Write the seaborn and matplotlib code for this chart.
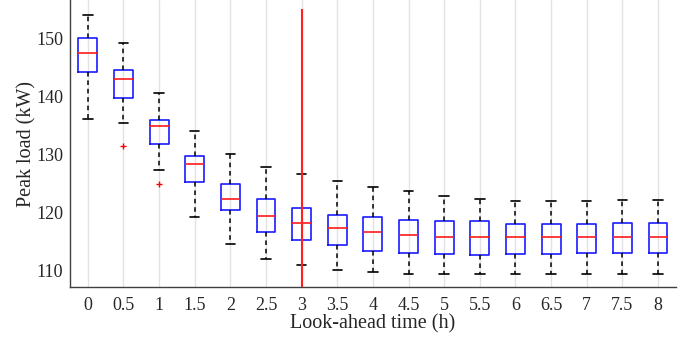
import numpy as np
import pandas as pd
import seaborn as sns
import matplotlib
matplotlib.use("Agg")
import matplotlib.pyplot as plt

# look-ahead times (categories on the x axis)
times = ['0', '0.5', '1', '1.5', '2', '2.5', '3', '3.5', '4', '4.5',
         '5', '5.5', '6', '6.5', '7', '7.5', '8']

# box statistics (kW)
whisker_lo = [136.2, 135.5, 127.4, 119.2, 114.6, 112.0, 111.0, 110.2, 109.8,
              109.5, 109.5, 109.4, 109.4, 109.4, 109.5, 109.5, 109.5]
q1 = [144.2, 139.8, 131.9, 125.3, 120.4, 116.7, 115.3, 114.5, 113.5,
      113.0, 112.9, 112.8, 112.9, 112.9, 113.0, 113.0, 113.0]
median = [147.4, 143.0, 135.0, 128.3, 122.4, 119.5, 118.2, 117.4, 116.7,
          116.1, 115.9, 115.8, 115.8, 115.8, 115.9, 115.9, 115.9]
q3 = [150.0, 144.6, 135.9, 129.8, 125.0, 122.3, 120.8, 119.6, 119.2,
      118.8, 118.6, 118.5, 118.0, 118.0, 118.1, 118.2, 118.2]
whisker_hi = [154.0, 149.2, 140.6, 134.0, 130.1, 127.9, 126.6, 125.4, 124.4,
              123.8, 122.9, 122.4, 122.1, 122.1, 122.1, 122.2, 122.2]

# outliers drawn as red crosses
outlier_times = ['0.5', '1']
outlier_vals = [131.5, 124.9]

# chosen look-ahead time marked by the red line
marked_time = '3'
marked_top = 155.0

# five points per box give exactly the drawn quartiles and whisker ends
rows = []
for t, lo, a, m, b, hi in zip(times, whisker_lo, q1, median, q3, whisker_hi):
    for v in (lo, a, m, b, hi):
        rows.append({'time': t, 'load': v})
df = pd.DataFrame(rows)

sns.set_style('white')
plt.rcParams['font.family'] = ['Liberation Serif', 'DejaVu Serif']

fig, ax = plt.subplots(figsize=(6.96, 3.37), dpi=100)
fig.subplots_adjust(left=0.1006, right=0.971, bottom=0.148, top=1.0)

sns.boxplot(data=df, x='time', y='load', order=times, fill=False, width=0.53,
            whis=(0, 100), showfliers=False, ax=ax,
            boxprops=dict(color='#1a1aff', linewidth=1.2),
            medianprops=dict(color='#ff1a1a', linewidth=1.2),
            whiskerprops=dict(color='black', linestyle=(0, (3, 2.5)), linewidth=1.1),
            capprops=dict(color='black', linewidth=1.2))

sns.stripplot(x=outlier_times, y=outlier_vals, order=times, jitter=False,
              marker='+', color='red', edgecolor='red', size=4, linewidth=1,
              ax=ax)

# seaborn switches the grid off on the categorical axis, so add it back here
ax.xaxis.grid(True, color='#e2e2e2', linewidth=1)
ax.yaxis.grid(False)
ax.set_axisbelow(True)

ax.set_ylim(107.2, 156.6)
ax.set_xlim(-0.5, len(times) - 0.5)
ax.vlines(times.index(marked_time), ax.get_ylim()[0], marked_top,
          color='#ff2020', linewidth=1.5, zorder=5)

ax.set_yticks([110, 120, 130, 140, 150])
ax.set_xticks(range(len(times)))
ax.set_xticklabels(times)
ax.tick_params(direction='in', length=4, width=1, color='#404040',
               labelsize=13, labelcolor='#262626')
ax.tick_params(axis='y', pad=5)
ax.tick_params(axis='x', pad=7)

for side in ['top', 'right']:
    ax.spines[side].set_visible(False)
for side in ['left', 'bottom']:
    ax.spines[side].set_color('#404040')
    ax.spines[side].set_linewidth(1)

ax.set_xlabel('Look-ahead time (h)', fontsize=14.5, color='#262626', labelpad=0)
ax.set_ylabel('Peak load (kW)', fontsize=14.5, color='#262626', labelpad=0)

fig.savefig('out.png', dpi=100)
